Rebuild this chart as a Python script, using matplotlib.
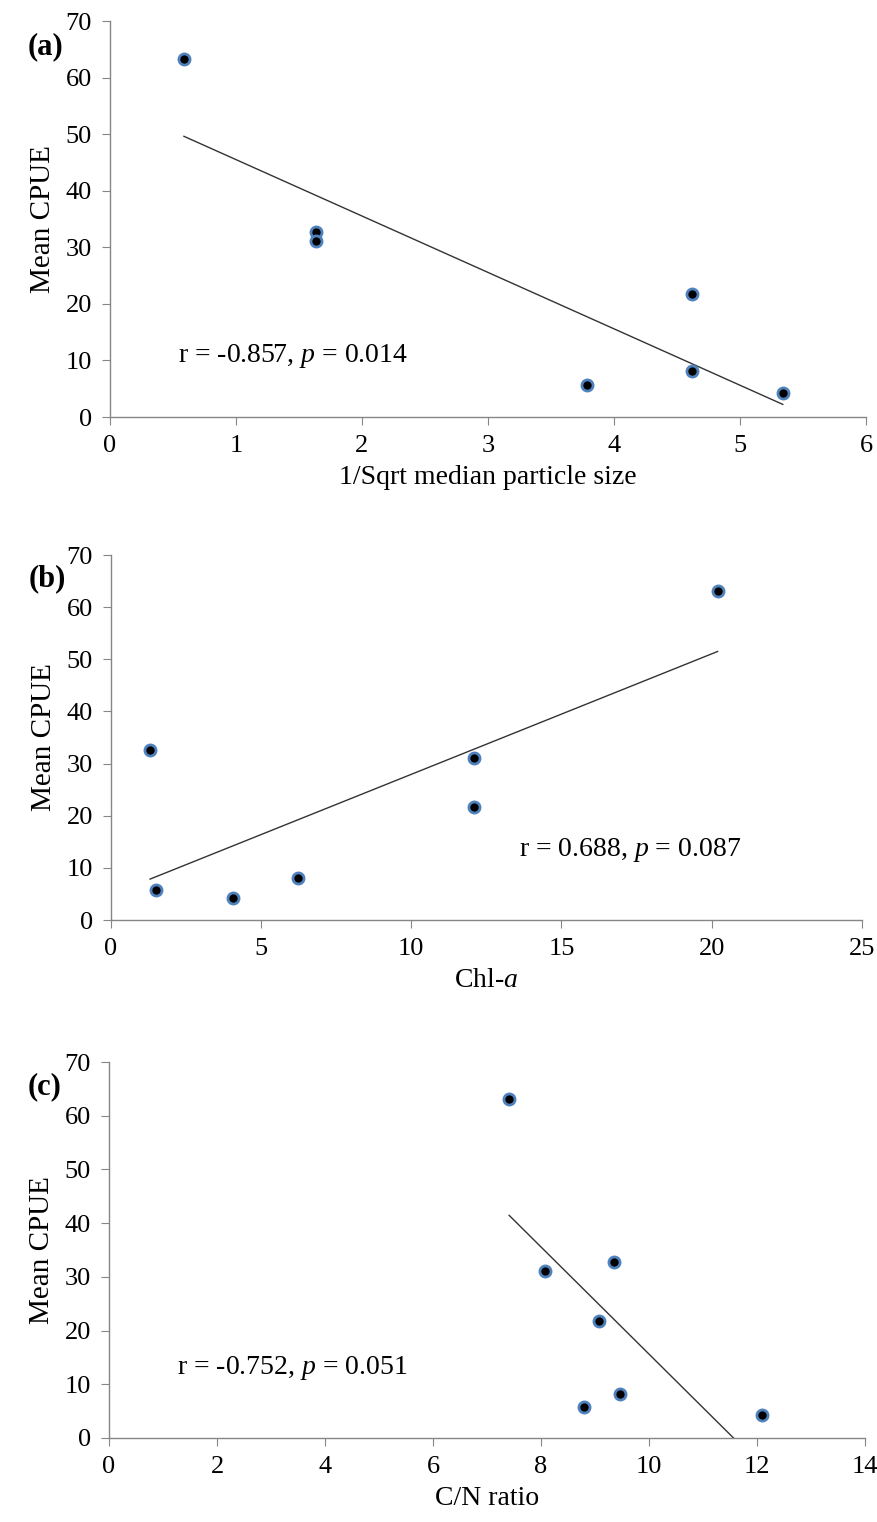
import matplotlib
matplotlib.use('Agg')
import matplotlib.pyplot as plt
import numpy as np

plt.rcParams['font.family'] = 'Liberation Serif'
plt.rcParams['mathtext.fontset'] = 'custom'
plt.rcParams['mathtext.rm'] = 'Liberation Serif'
plt.rcParams['mathtext.it'] = 'Liberation Serif:italic'

# mean CPUE per site (same for all panels)
cpue = [63.2, 32.7, 31.1, 5.7, 21.7, 8.1, 4.2]

# (a) 1/sqrt median particle size
x_a = [0.587, 1.635, 1.635, 3.79, 4.62, 4.62, 5.34]
# (b) Chl-a
x_b = [20.2, 1.3, 12.1, 1.5, 12.1, 6.22, 4.05]
# (c) C/N ratio
x_c = [7.41, 9.35, 8.07, 8.80, 9.07, 9.46, 12.09]

panels = [
    dict(x=x_a, label='(a)', xlabel='1/Sqrt median particle size', xlim=(0, 6), xticks=np.arange(0, 7, 1),
         stat=r'r = -0.857, $p$ = 0.014', stat_pos=(0.242, 0.154),
         rect=[0.1254, 0.726, 0.862, 0.2602]),
    dict(x=x_b, label='(b)', xlabel='Chl-$a$', xlim=(0, 25), xticks=np.arange(0, 30, 5),
         stat=r'r = 0.688, $p$ = 0.087', stat_pos=(0.691, 0.192),
         rect=[0.1266, 0.3955, 0.856, 0.2398]),
    dict(x=x_c, label='(c)', xlabel='C/N ratio', xlim=(0, 14), xticks=np.arange(0, 16, 2),
         stat=r'r = -0.752, $p$ = 0.051', stat_pos=(0.242, 0.186),
         rect=[0.1243, 0.0552, 0.862, 0.247]),
]

fig = plt.figure(figsize=(8.77, 15.22), dpi=100)
grey = '#868686'

for p in panels:
    ax = fig.add_axes(p['rect'])
    x = np.array(p['x'])
    y = np.array(cpue)
    # linear trendline
    slope, icpt = np.polyfit(x, y, 1)
    xl = np.array([x.min(), x.max()])
    ax.plot(xl, slope * xl + icpt, color='#333333', lw=1.0, zorder=2)
    ax.plot(x, y, 'o', ms=8, mfc='black', mec='#4F81BD', mew=2.0, zorder=3, clip_on=False)

    ax.set_xlim(*p['xlim'])
    ax.set_ylim(0, 70)
    ax.set_xticks(p['xticks'])
    ax.set_yticks(np.arange(0, 80, 10))
    for s in ['top', 'right']:
        ax.spines[s].set_visible(False)
    for s in ['left', 'bottom']:
        ax.spines[s].set_color(grey)
        ax.spines[s].set_linewidth(1.0)
    ax.tick_params(direction='out', length=6, color=grey, labelsize=19, pad=7)
    ax.set_xlabel(p['xlabel'], fontsize=20, labelpad=6)
    ax.set_ylabel('Mean CPUE', fontsize=21, labelpad=7)
    ax.text(p['stat_pos'][0], p['stat_pos'][1], p['stat'], transform=ax.transAxes,
            ha='center', va='center', fontsize=20)
    # panel letter
    ax.text(-0.085, 0.935, p['label'], transform=ax.transAxes, ha='center', va='center',
            fontsize=22, fontweight='bold')

fig.savefig('out.png', dpi=100)
